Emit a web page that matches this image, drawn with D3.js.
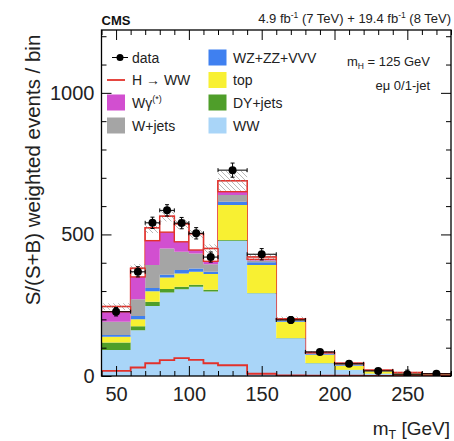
<!DOCTYPE html>
<html><head><meta charset="utf-8">
<script src="https://cdn.jsdelivr.net/npm/d3@7"></script>
<style>
html,body{margin:0;padding:0;background:#fff;}
svg{display:block;font-family:"Liberation Sans",Arial,Helvetica,sans-serif;}
</style></head><body>
<svg id="chart" width="454" height="441"></svg>
<script>
// Transverse-mass distribution, e-mu 0/1-jet, weighted by S/(S+B)
const binEdges  = [40,60,70,80,90,100,110,120,140,160,180,200,220,240,260,280];
const wwVals    = [92,162,247,295,306,315,298,478,292,133,45,21,8,4,3];
const dyVals    = [26,14,15,12,9,7,7,2,1,1,1,1,1,0.5,0.5];
const topVals   = [21,24,37,41,47,46,55,124,99,58,28,13,8,4.5,3];
const vzVals    = [6,12,12,10,12,12,8,11,10,3,3,3,1,1,0.5];
const wjetsVals = [47,59,81,92,65,53,27,24,6,3,3,4,1,1,0.5];
const wgVals    = [35,79,86,58,35,12,10,12,4,2,2,2,1,0.5,0.3];
const higgsVals = [18,30,45,56,63,57,45,38,8,2,1,1,0.5,0.3,0.2];
const dataVals  = [227,368,541,585,540,504,420,727,430,198,85,43,18,6,8];
const dataErrs  = [15,18,20,20,20,20,18,25,20,12,8,8,6,15,6];
const systErrs  = [12,15,18,18,18,15,15,35,12,8,5,4,3,3,2];
const xTicks = [50,100,150,200,250];
const yTicks = [0,500,1000];

const bgKeys = ["ww","dy","top","vz","wjets","wg"];
const bgColors = {ww:"#a9d5f8", dy:"#4f9e2a", top:"#f8f032", vz:"#3f80f0", wjets:"#a5a5a5", wg:"#d24fd0"};
const sigColor = "#e2312b";

const rows = binEdges.slice(0,-1).map((lo,i)=>({
  lo, hi: binEdges[i+1],
  ww: wwVals[i], dy: dyVals[i], top: topVals[i], vz: vzVals[i],
  wjets: wjetsVals[i], wg: wgVals[i], higgs: higgsVals[i],
  data: dataVals[i], err: dataErrs[i], syst: systErrs[i]
}));

const L = 101.5, R = 451, T = 30, B = 376;
const x = d3.scaleLinear().domain([40,280]).range([L,R]);
const y = d3.scaleLinear().domain([0,1222]).range([B,T]);

const svg = d3.select("#chart");

// hatch pattern for the uncertainty band
const defs = svg.append("defs");
const pat = defs.append("pattern").attr("id","hatch").attr("patternUnits","userSpaceOnUse")
  .attr("width",5).attr("height",5);
pat.append("path").attr("d","M-1,-1 L6,6 M-1,4 L1,6 M4,-1 L6,1")
  .attr("stroke","#8a8a8a").attr("stroke-width",0.6);

const plot = svg.append("g");
plot.append("clipPath").attr("id","frameClip").append("rect")
  .attr("x",L).attr("y",T).attr("width",R-L).attr("height",B-T);
const g = plot.append("g").attr("clip-path","url(#frameClip)");

const stack = d3.stack().keys(bgKeys)(rows);
const bgTop = rows.map(r => bgKeys.reduce((s,k)=>s+r[k],0));
const total = rows.map((r,i)=> bgTop[i] + r.higgs);

// step outline of the total (signal stacked on background)
const stepPts = [];
rows.forEach((r,i)=>{ stepPts.push([r.lo,total[i]]); stepPts.push([r.hi,total[i]]); });
const stepLine = d3.line().x(d=>x(d[0])).y(d=>y(d[1]));
g.append("path").attr("d", stepLine([[40,0],...stepPts,[280,0]]))
  .attr("fill","none").attr("stroke",sigColor).attr("stroke-width",1.6);

// stacked background fills
const area = d3.area().x(d=>x(d.x)).y0(d=>y(d.y0)).y1(d=>y(d.y1));
stack.forEach(layer=>{
  const pts = [];
  layer.forEach((d,i)=>{
    pts.push({x:rows[i].lo, y0:d[0], y1:d[1]});
    pts.push({x:rows[i].hi, y0:d[0], y1:d[1]});
  });
  g.append("path").attr("d",area(pts)).attr("fill",bgColors[layer.key])
    .attr("stroke","none");
});

// signal contribution on top of the stack
g.selectAll("rect.sig").data(rows).join("rect").attr("class","sig")
  .attr("x",d=>x(d.lo)).attr("width",d=>x(d.hi)-x(d.lo))
  .attr("y",(d,i)=>y(total[i])).attr("height",(d,i)=>y(bgTop[i])-y(total[i]))
  .attr("fill","#fff").attr("stroke",sigColor).attr("stroke-width",1.4);

// uncertainty band
g.selectAll("rect.syst").data(rows).join("rect").attr("class","syst")
  .attr("x",d=>x(d.lo)).attr("width",d=>x(d.hi)-x(d.lo))
  .attr("y",(d,i)=>y(total[i]+d.syst)).attr("height",(d,i)=>y(total[i]-d.syst)-y(total[i]+d.syst))
  .attr("fill","url(#hatch)");

// signal alone
const sigPts = [];
rows.forEach(r=>{ sigPts.push([r.lo,r.higgs]); sigPts.push([r.hi,r.higgs]); });
g.append("path").attr("d", stepLine([[40,0],...sigPts,[280,0]]))
  .attr("fill","none").attr("stroke",sigColor).attr("stroke-width",1.8);

// data points with error bars
const dg = g.append("g").attr("stroke","#000").attr("stroke-width",1);
rows.forEach(r=>{
  const cx = x((r.lo+r.hi)/2), cy = y(r.data);
  dg.append("line").attr("x1",x(r.lo)).attr("x2",x(r.hi)).attr("y1",cy).attr("y2",cy);
  dg.append("line").attr("x1",cx).attr("x2",cx).attr("y1",y(r.data-r.err)).attr("y2",y(r.data+r.err));
  [r.data-r.err, r.data+r.err].forEach(v=>
    dg.append("line").attr("x1",cx-2).attr("x2",cx+2).attr("y1",y(v)).attr("y2",y(v)));
  [r.lo, r.hi].forEach(v=>
    dg.append("line").attr("x1",x(v)).attr("x2",x(v)).attr("y1",cy-2).attr("y2",cy+2));
  dg.append("circle").attr("cx",cx).attr("cy",cy).attr("r",4).attr("fill","#000").attr("stroke","none");
});

// axes: ticks pointing inwards on all four sides
const minorX = d3.range(40,281,10).filter(v=>!xTicks.includes(v));
const minorY = d3.range(0,1201,100).filter(v=>!yTicks.includes(v));
const fmt = d3.format("d");
function styleAxis(sel, fs){
  sel.select(".domain").remove();
  sel.selectAll("line").attr("stroke","#000").attr("stroke-width",1);
  sel.selectAll("text").attr("font-size",fs).attr("fill","#222")
    .attr("font-family","'Liberation Sans',Arial,sans-serif");
}
svg.append("g").attr("transform",`translate(0,${B})`)
  .call(d3.axisBottom(x).tickValues(xTicks).tickFormat(fmt).tickSize(-10).tickPadding(11)).call(s=>styleAxis(s,20));
svg.append("g").attr("transform",`translate(0,${B})`)
  .call(d3.axisBottom(x).tickValues(minorX).tickSize(-5).tickFormat("")).call(s=>styleAxis(s,20));
svg.append("g").attr("transform",`translate(0,${T})`)
  .call(d3.axisTop(x).tickValues(xTicks).tickSize(-10).tickFormat("")).call(s=>styleAxis(s,20));
svg.append("g").attr("transform",`translate(0,${T})`)
  .call(d3.axisTop(x).tickValues(minorX).tickSize(-5).tickFormat("")).call(s=>styleAxis(s,20));
svg.append("g").attr("transform",`translate(${L},0)`)
  .call(d3.axisLeft(y).tickValues(yTicks).tickFormat(fmt).tickSize(-10).tickPadding(7)).call(s=>styleAxis(s,20));
svg.append("g").attr("transform",`translate(${L},0)`)
  .call(d3.axisLeft(y).tickValues(minorY).tickSize(-5).tickFormat("")).call(s=>styleAxis(s,20));
svg.append("g").attr("transform",`translate(${R},0)`)
  .call(d3.axisRight(y).tickValues(yTicks).tickSize(-10).tickFormat("")).call(s=>styleAxis(s,20));
svg.append("g").attr("transform",`translate(${R},0)`)
  .call(d3.axisRight(y).tickValues(minorY).tickSize(-5).tickFormat("")).call(s=>styleAxis(s,20));

svg.append("rect").attr("x",L).attr("y",T).attr("width",R-L).attr("height",B-T)
  .attr("fill","none").attr("stroke","#000").attr("stroke-width",1.3);

// axis titles
svg.append("text").attr("transform","translate(40,170) rotate(-90)")
  .attr("text-anchor","middle").attr("font-size",20.5).attr("fill","#222")
  .text("S/(S+B) weighted events / bin");
const xt = svg.append("text").attr("x",450).attr("y",435).attr("text-anchor","end")
  .attr("font-size",19).attr("fill","#222");
xt.append("tspan").text("m");
xt.append("tspan").attr("font-size",12.5).attr("dy",4).text("T");
xt.append("tspan").attr("dy",-4).text(" [GeV]");

// header
svg.append("text").attr("x",L).attr("y",25).attr("font-size",13).attr("font-weight","bold")
  .attr("fill","#111").text("CMS");
const hd = svg.append("text").attr("x",R).attr("y",23).attr("text-anchor","end")
  .attr("font-size",13).attr("fill","#222");
hd.append("tspan").text("4.9 fb");
hd.append("tspan").attr("font-size",8.5).attr("dy",-5).text("-1");
hd.append("tspan").attr("dy",5).text(" (7 TeV) + 19.4 fb");
hd.append("tspan").attr("font-size",8.5).attr("dy",-5).text("-1");
hd.append("tspan").attr("dy",5).text(" (8 TeV)");

// legend
const legRows = [57.5,80,102.5,125.5];
const leg = svg.append("g").attr("font-size",14).attr("fill","#222");
// data
leg.append("line").attr("x1",112).attr("x2",128).attr("y1",legRows[0]).attr("y2",legRows[0])
  .attr("stroke","#000").attr("stroke-width",1);
leg.append("circle").attr("cx",120).attr("cy",legRows[0]).attr("r",3.5).attr("fill","#000");
leg.append("text").attr("x",132).attr("y",legRows[0]+5).text("data");
// signal
leg.append("line").attr("x1",107).attr("x2",125).attr("y1",legRows[1]).attr("y2",legRows[1])
  .attr("stroke",sigColor).attr("stroke-width",1.8);
leg.append("text").attr("x",132).attr("y",legRows[1]+5).text("H \u2192 WW");
function box(xp, row, col){
  leg.append("rect").attr("x",xp).attr("y",row-8).attr("width",18).attr("height",16)
    .attr("fill",col);
}
box(107, legRows[2], bgColors.wg);
const wgT = leg.append("text").attr("x",132).attr("y",legRows[2]+5);
wgT.append("tspan").text("W\u03b3");
wgT.append("tspan").attr("font-size",9).attr("dy",-6).text("(*)");
box(107, legRows[3], bgColors.wjets);
leg.append("text").attr("x",132).attr("y",legRows[3]+5).text("W+jets");
const rightCol = [["vz","WZ+ZZ+VVV"],["top","top"],["dy","DY+jets"],["ww","WW"]];
rightCol.forEach(([k,lab],i)=>{
  box(208.5, legRows[i], bgColors[k]);
  leg.append("text").attr("x",233).attr("y",legRows[i]+5).text(lab);
});

// analysis labels
const mh = svg.append("text").attr("x",430).attr("y",66).attr("text-anchor","end")
  .attr("font-size",13).attr("fill","#222");
mh.append("tspan").text("m");
mh.append("tspan").attr("font-size",8.5).attr("dy",3).text("H");
mh.append("tspan").attr("dy",-3).text(" = 125 GeV");
svg.append("text").attr("x",430).attr("y",90).attr("text-anchor","end")
  .attr("font-size",13).attr("fill","#222").text("e\u03bc 0/1-jet");
</script>
</body></html>
